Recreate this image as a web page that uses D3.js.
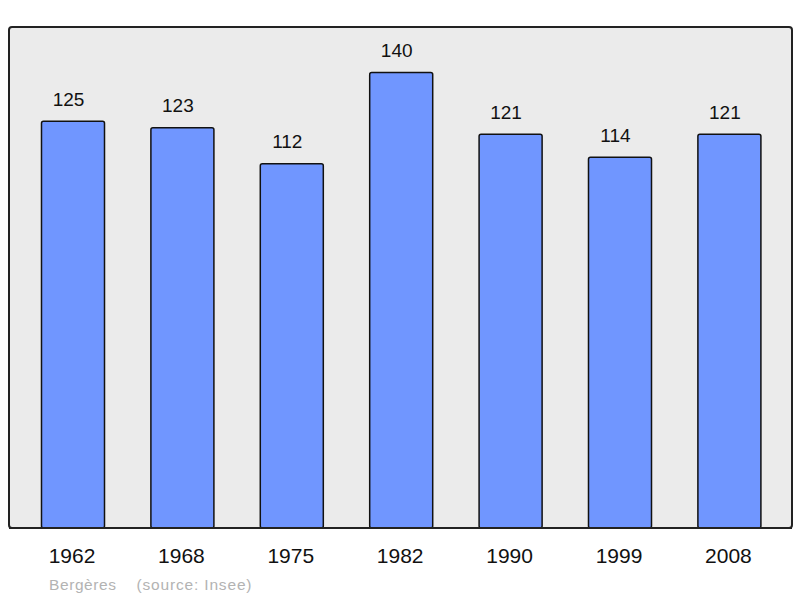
<!DOCTYPE html>
<html><head><meta charset="utf-8">
<script src="https://cdn.jsdelivr.net/npm/d3@7/dist/d3.min.js"></script>
<style>body{margin:0;background:#fff}svg{display:block}text{font-family:"Liberation Sans",Arial,sans-serif}</style>
</head><body>
<svg id="c" width="800" height="598"></svg>
<script>
const years = ["1962","1968","1975","1982","1990","1999","2008"];
const population = [125,123,112,140,121,114,121];
const commune = "Bergères";
const source = "(source: Insee)";

const svg = d3.select("#c");
const frame = {x0: 9, y0: 27, x1: 792, y1: 528};

svg.append("rect").attr("x", frame.x0).attr("y", frame.y0)
  .attr("width", frame.x1 - frame.x0).attr("height", frame.y1 - frame.y0)
  .attr("rx", 3).attr("fill", "#ebebeb").attr("stroke", "#222").attr("stroke-width", 2);

const x = d3.scaleBand().domain(years).range([18.3, 784.1]).paddingInner(0.424).paddingOuter(0.212);
const y = d3.scaleLinear().domain([0, 154]).range([frame.y1, frame.y0]);

const g = svg.append("g");
g.selectAll("rect.bar").data(population).join("rect").attr("class","bar")
  .attr("x", (d,i) => x(years[i])).attr("y", d => y(d))
  .attr("width", x.bandwidth()).attr("height", d => frame.y1 - y(d))
  .attr("rx", 2).attr("fill", "#7096ff").attr("stroke", "#111").attr("stroke-width", 1.5);

g.selectAll("text.val").data(population).join("text").attr("class","val")
  .attr("x", (d,i) => x(years[i]) + x.bandwidth()/2 - 4.5).attr("y", d => y(d) - 15.5)
  .attr("text-anchor","middle").attr("font-size", 19).attr("fill","#111").text(d => d);

svg.append("line").attr("x1", frame.x0).attr("x2", frame.x1).attr("y1", frame.y1).attr("y2", frame.y1)
  .attr("stroke","#222").attr("stroke-width",2);

svg.selectAll("text.yr").data(years).join("text").attr("class","yr")
  .attr("x", d => x(d) + x.bandwidth()/2 - 1).attr("y", 563)
  .attr("text-anchor","middle").attr("font-size", 21).attr("fill","#111").text(d => d);

svg.append("text").attr("x", 49).attr("y", 589.5).attr("font-size", 15.5).attr("fill","#b3b3b3")
  .attr("textLength", 67).attr("lengthAdjust","spacing").text(commune);
svg.append("text").attr("x", 136.5).attr("y", 589.5).attr("font-size", 15.5).attr("fill","#b3b3b3")
  .attr("textLength", 115).attr("lengthAdjust","spacing").text(source);
</script>
</body></html>
